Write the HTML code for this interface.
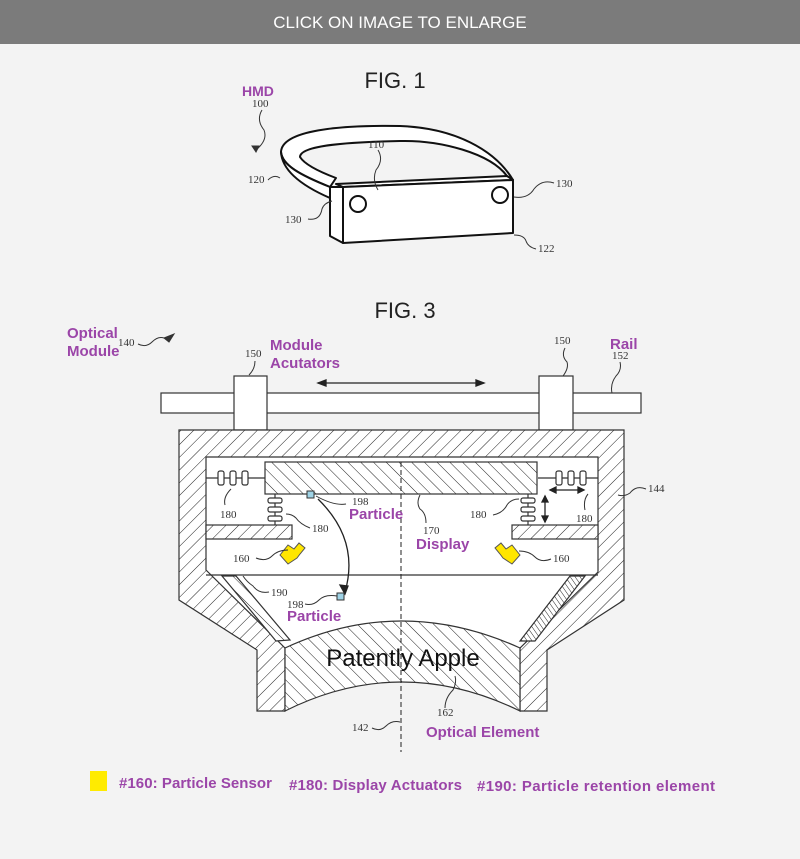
<!DOCTYPE html>
<html><head><meta charset="utf-8"><style>
body{margin:0;background:#f3f3f3;width:800px;height:854px;overflow:hidden;font-family:"Liberation Sans",sans-serif}
</style></head><body>
<svg width="800" height="854" viewBox="0 0 800 854" xmlns="http://www.w3.org/2000/svg">
<defs>
<pattern id="h1" patternUnits="userSpaceOnUse" width="9" height="9" patternTransform="rotate(45)">
<rect width="9" height="9" fill="#fff"/><line x1="0" y1="0" x2="0" y2="9" stroke="#222" stroke-width="1"/></pattern>
<pattern id="h2" patternUnits="userSpaceOnUse" width="9" height="9" patternTransform="rotate(-45)">
<rect width="9" height="9" fill="#fff"/><line x1="0" y1="0" x2="0" y2="9" stroke="#222" stroke-width="1"/></pattern>
<pattern id="h3" patternUnits="userSpaceOnUse" width="4" height="4" patternTransform="rotate(-35)">
<rect width="4" height="4" fill="#fff"/><line x1="0" y1="0" x2="0" y2="4" stroke="#222" stroke-width="1"/></pattern>
</defs>
<rect x="0" y="0" width="800" height="44" fill="#7b7b7b"/>
<text x="400" y="28" fill="#fff" font-size="17" text-anchor="middle">CLICK ON IMAGE TO ENLARGE</text>
<text x="395" y="88" font-size="22" text-anchor="middle" fill="#222">FIG. 1</text>
<text x="405" y="318" font-size="22" text-anchor="middle" fill="#222">FIG. 3</text>
<rect x="90" y="771" width="17" height="20" fill="#ffeb00"/>
<!-- HMD -->
<g stroke="#111" stroke-width="2" fill="#fff" stroke-linejoin="round">
<path d="M330 187 C300 175 282 165 281 152 C282 130 340 125 400 126 C455 128 495 150 513 180 L507 176 C490 153 440 140 400 141 C350 142 300 145 300 157 C305 165 320 172 336 178 Z"/>
<path d="M281 152 C282 170 300 185 330 198 L330 187 C300 175 282 165 281 152Z"/>
<path d="M336 184 L507 176 L513 180 L343 187 Z"/>
<path d="M330 187 L343 187 L343 243 L330 236 Z"/>
<path d="M343 187 L513 180 L513 233 L343 243 Z"/>
<circle cx="358" cy="204" r="8"/><circle cx="500" cy="195" r="8"/>
</g>
<!-- FIG 3 -->
<g stroke="#333" stroke-width="1.2">
<rect x="161" y="393" width="480" height="20" fill="#fff"/>
<rect x="234" y="376" width="33" height="54" fill="#fff"/>
<rect x="539" y="376" width="34" height="54" fill="#fff"/>
<path d="M179 430 L624 430 L624 600 L547 650 L547 711 L520 711 L520 648 L285 648 L285 711 L257 711 L257 650 L179 600 Z" fill="url(#h1)"/>
<path d="M206 457 L598 457 L598 572 L520 648 L285 648 L206 570 Z" fill="#fff"/>
<rect x="206" y="525" width="86" height="14" fill="url(#h1)"/>
<rect x="512" y="525" width="86" height="14" fill="url(#h1)"/>
<line x1="206" y1="575" x2="598" y2="575"/>
<path d="M222 576 L236 576 L290 640 L276 641 Z" fill="url(#h2)"/>
<path d="M570 576 L585 576 L535 641 L520 641 Z" fill="url(#h3)"/>
<rect x="265" y="462" width="272" height="32" fill="url(#h2)"/>
<path d="M285 648 Q401 594 520 648 L520 711 Q401 653 285 711 Z" fill="url(#h2)"/>
</g>
<g stroke="#333" stroke-width="1.2" fill="#fff">
<line x1="206" y1="478" x2="265" y2="478"/><line x1="538" y1="478" x2="598" y2="478"/>
<rect x="218" y="471" width="6" height="14" rx="2"/><rect x="230" y="471" width="6" height="14" rx="2"/><rect x="242" y="471" width="6" height="14" rx="2"/>
<rect x="556" y="471" width="6" height="14" rx="2"/><rect x="568" y="471" width="6" height="14" rx="2"/><rect x="580" y="471" width="6" height="14" rx="2"/>
<line x1="275" y1="494" x2="275" y2="525"/><line x1="528" y1="494" x2="528" y2="525"/>
<rect x="268" y="498" width="14" height="5" rx="2"/><rect x="268" y="507" width="14" height="5" rx="2"/><rect x="268" y="516" width="14" height="5" rx="2"/>
<rect x="521" y="498" width="14" height="5" rx="2"/><rect x="521" y="507" width="14" height="5" rx="2"/><rect x="521" y="516" width="14" height="5" rx="2"/>
</g>
<g stroke="#222" stroke-width="1.3" fill="none">
<line x1="318" y1="383" x2="484" y2="383"/><path d="M318 383 l8 -3 v6z M484 383 l-8 -3 v6z" fill="#222"/>
<line x1="550" y1="490" x2="584" y2="490"/><path d="M550 490 l6 -3 v6z M584 490 l-6 -3 v6z" fill="#222"/>
<line x1="545" y1="496" x2="545" y2="522"/><path d="M545 496 l-3 6 h6z M545 522 l-3 -6 h6z" fill="#222"/>
<path d="M318 499 Q360 540 345 592"/><path d="M345 594 l-5 -9 l8 1z" fill="#222"/>
<line x1="401" y1="462" x2="401" y2="752" stroke-dasharray="5,3" stroke-width="1"/>
</g>
<rect x="307" y="491" width="7" height="7" fill="#9fd3e6" stroke="#333"/>
<rect x="337" y="593" width="7" height="7" fill="#9fd3e6" stroke="#333"/>
<g fill="#ffe600" stroke="#555" stroke-width="1">
<path d="M280 555 l8 -10 l6 4 l5 -6 l6 5 l-5 6 l-3 4 l-9 6z"/>
<path d="M520 555 l-8 -10 l-6 4 l-5 -6 l-6 5 l5 6 l3 4 l9 6z"/>
</g>
<text x="403" y="666" font-size="24" text-anchor="middle" fill="#111" font-family="Liberation Sans,sans-serif">Patently Apple</text>
<g fill="none" stroke="#333" stroke-width="1">
<path d="M262 110 q-6 10 2 20 q4 10 -8 20"/><path d="M252 146 l4 6 l3 -6z" fill="#333"/>
<path d="M378 150 q6 10 -2 20 q-4 10 2 20"/>
<path d="M268 180 q6 -6 12 -2"/>
<path d="M308 219 q12 2 14 -10 q2 -6 10 -8"/>
<path d="M554 183 q-12 -4 -20 6 q-6 10 -20 8"/>
<path d="M536 249 q-8 -2 -10 -8 q-2 -6 -12 -6"/>
<path d="M138 344 q8 4 14 -2 q6 -6 12 -4"/><path d="M164 338 l10 -4 l-5 8z" fill="#333"/>
<path d="M255 361 q0 8 -6 14"/><path d="M565 348 q-4 8 2 14 q2 6 -4 14"/><path d="M620 362 q2 8 -4 14 q-6 8 -4 17"/>
<path d="M316 496 q18 10 30 8"/><path d="M225 505 q-2 -8 6 -16"/><path d="M310 528 q-10 -4 -14 -10 q-4 -4 -10 -4"/>
<path d="M493 515 q10 -2 14 -10 q4 -6 12 -6"/><path d="M585 510 q-2 -10 3 -16"/>
<path d="M426 523 q0 -10 -6 -14 q-4 -6 0 -14"/><path d="M256 558 q10 4 16 -2 q6 -6 16 -6"/><path d="M551 559 q-10 4 -16 -2 q-6 -6 -16 -6"/>
<path d="M269 592 q-10 2 -16 -6 q-6 -4 -10 -10"/><path d="M305 604 q8 2 14 -4 q6 -6 18 -4"/>
<path d="M646 489 q-10 -4 -16 4 q-6 4 -12 2"/><path d="M372 728 q8 4 14 -2 q6 -6 14 -4"/><path d="M445 708 q0 -10 8 -18 q4 -8 2 -14"/>
</g>
<g font-family="Liberation Serif,serif" font-size="11" fill="#333">
<text x="252" y="107">100</text><text x="368" y="148">110</text><text x="248" y="183">120</text>
<text x="285" y="223">130</text><text x="556" y="187">130</text><text x="538" y="252">122</text>
<text x="118" y="346">140</text><text x="245" y="357">150</text><text x="554" y="344">150</text><text x="612" y="359">152</text>
<text x="220" y="518">180</text><text x="312" y="532">180</text><text x="470" y="518">180</text><text x="576" y="522">180</text>
<text x="352" y="505">198</text><text x="423" y="534">170</text><text x="233" y="562">160</text><text x="553" y="562">160</text>
<text x="271" y="596">190</text><text x="287" y="608">198</text><text x="648" y="492">144</text>
<text x="352" y="731">142</text><text x="437" y="716">162</text>
</g>
<g font-family="Liberation Sans,sans-serif" font-weight="bold" fill="#9b45a8" font-size="15">
<text x="242" y="96" font-size="14">HMD</text>
<text x="67" y="338">Optical</text><text x="67" y="356">Module</text>
<text x="270" y="350">Module</text><text x="270" y="368">Acutators</text>
<text x="610" y="349">Rail</text>
<text x="349" y="519">Particle</text>
<text x="416" y="549">Display</text>
<text x="287" y="621">Particle</text>
<text x="426" y="737">Optical Element</text>
<text x="119" y="788" textLength="153">#160: Particle Sensor</text>
<text x="289" y="790" textLength="173">#180: Display Actuators</text>
<text x="477" y="791" textLength="238">#190: Particle retention element</text>
</g>
</svg>
</body></html>
